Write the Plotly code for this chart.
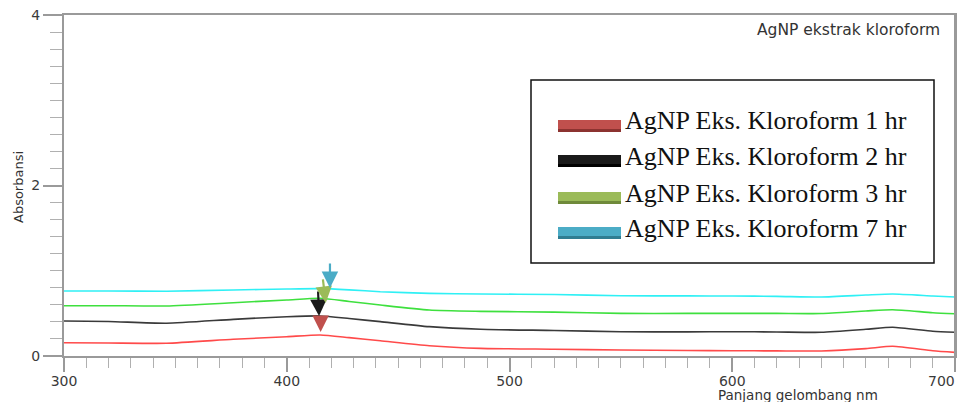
import plotly.graph_objects as go

# ---------------- data ----------------
wavelength = [300, 320, 346, 376, 400, 415, 428, 442, 464, 487, 520, 550, 580, 600, 620, 640, 660, 672, 690, 700]
abs_7hr = [0.762, 0.762, 0.760, 0.774, 0.786, 0.790, 0.776, 0.754, 0.735, 0.727, 0.722, 0.707, 0.705, 0.704, 0.700, 0.692, 0.715, 0.727, 0.704, 0.692]
abs_3hr = [0.590, 0.590, 0.587, 0.625, 0.657, 0.677, 0.640, 0.598, 0.539, 0.524, 0.515, 0.500, 0.500, 0.500, 0.500, 0.498, 0.528, 0.543, 0.508, 0.496]
abs_2hr = [0.410, 0.405, 0.384, 0.430, 0.461, 0.470, 0.440, 0.403, 0.344, 0.313, 0.300, 0.285, 0.283, 0.285, 0.282, 0.278, 0.313, 0.337, 0.290, 0.278]
abs_1hr = [0.156, 0.153, 0.149, 0.196, 0.226, 0.246, 0.215, 0.179, 0.121, 0.090, 0.080, 0.070, 0.064, 0.062, 0.060, 0.059, 0.086, 0.114, 0.062, 0.043]

series_names = ["AgNP Eks. Kloroform 1 hr", "AgNP Eks. Kloroform 2 hr",
                "AgNP Eks. Kloroform 3 hr", "AgNP Eks. Kloroform 7 hr"]
series_values = [abs_1hr, abs_2hr, abs_3hr, abs_7hr]
line_colors = ["#ff4a4a", "#3a3a3a", "#3ee03e", "#2ff0f5"]
swatch_colors = ["#c0504d", "#1a1a1a", "#9bbb59", "#4bacc6"]
swatch_shadow = ["#8c3330", "#000000", "#6f8a3a", "#2f7d92"]

# peak markers (arrow tips): wavelength, absorbance
peak_wl = [415.2, 414.5, 417.5, 419.4]
peak_abs = [0.282, 0.469, 0.622, 0.798]
arrow_tail_dx = [0, -1, -3, 0]
arrow_tail_dy = [-14, -26, -25, -26]

x_ticks = [300, 400, 500, 600, 700]
y_ticks = [0, 2, 4]

# ---------------- layout helpers ----------------
W, H = 958, 402
L, R, T, B = 64, 955, 15, 356   # plot area in window pixels


def px(x):
    return (x - L) / (R - L)


def py(y):
    return (B - y) / (B - T)


fig = go.Figure()
for name, vals, col in zip(series_names, series_values, line_colors):
    fig.add_trace(go.Scatter(x=wavelength, y=vals, mode="lines", name=name,
                             line=dict(color=col, width=1.6, shape="spline", smoothing=0.6),
                             showlegend=False, hoverinfo="skip"))

annotations = []
for wl, a, dx, dy, col in zip(peak_wl, peak_abs, arrow_tail_dx, arrow_tail_dy, swatch_colors):
    annotations.append(dict(x=wl, y=a, xref="x", yref="y", ax=dx, ay=dy,
                            axref="pixel", ayref="pixel", text="", showarrow=True,
                            arrowhead=2, arrowsize=1.5, arrowwidth=2.2, arrowcolor=col))

axis_color = "#9a9a9a"
shapes = []
# right frame edge
shapes.append(dict(type="line", xref="paper", yref="paper", x0=1, x1=1, y0=0, y1=1,
                   line=dict(color=axis_color, width=2)))
# manual legend box
shapes.append(dict(type="rect", xref="paper", yref="paper",
                   x0=px(531), x1=px(934), y0=py(263), y1=py(80),
                   line=dict(color="#111111", width=1.5), fillcolor="white", layer="above"))
row_text_y = [121, 156, 193, 228]
row_swatch_y = [125, 160, 197, 232]
for name, sc, sh, ty, sy in zip(series_names, swatch_colors, swatch_shadow, row_text_y, row_swatch_y):
    shapes.append(dict(type="rect", xref="paper", yref="paper",
                       x0=px(558), x1=px(621), y0=py(sy + 7), y1=py(sy + 3),
                       line=dict(width=0), fillcolor=sh, layer="above"))
    shapes.append(dict(type="rect", xref="paper", yref="paper",
                       x0=px(558), x1=px(621), y0=py(sy + 4), y1=py(sy - 5),
                       line=dict(width=0), fillcolor=sc, layer="above"))
    annotations.append(dict(x=px(623), y=py(ty), xref="paper", yref="paper",
                            xanchor="left", yanchor="middle", showarrow=False,
                            text=name, font=dict(family="Liberation Serif", size=26, color="#111111")))

annotations.append(dict(x=px(942), y=py(30), xref="paper", yref="paper", xanchor="right",
                        yanchor="middle", showarrow=False, text="AgNP ekstrak kloroform",
                        font=dict(family="DejaVu Sans", size=15.5, color="#333333")))
annotations.append(dict(x=px(798), y=py(395), xref="paper", yref="paper", xanchor="center",
                        yanchor="middle", showarrow=False, text="Panjang gelombang nm",
                        font=dict(family="DejaVu Sans", size=13.5, color="#333333")))
annotations.append(dict(x=px(18), y=py(187), xref="paper", yref="paper", xanchor="center",
                        yanchor="middle", showarrow=False, text="Absorbansi", textangle=-90,
                        font=dict(family="DejaVu Sans", size=13, color="#333333")))
# last x tick label, kept inside the window edge
annotations.append(dict(x=px(957), y=py(381), xref="paper", yref="paper", xanchor="right",
                        yanchor="middle", showarrow=False, text=str(x_ticks[-1]),
                        font=dict(family="DejaVu Sans", size=14, color="#3a3a3a")))

x_ticktext = [str(v) for v in x_ticks[:-1]] + [""]

fig.update_layout(
    width=W, height=H,
    margin=dict(l=L, r=W - R, t=T, b=H - B, pad=0, autoexpand=False),
    paper_bgcolor="white", plot_bgcolor="white",
    font=dict(family="DejaVu Sans", size=14, color="#3a3a3a"),
    annotations=annotations, shapes=shapes,
    xaxis=dict(range=[300, 700], tickvals=x_ticks, ticktext=x_ticktext,
               showgrid=False, zeroline=False, showline=True, linecolor=axis_color, linewidth=2,
               mirror=True, ticks="outside", ticklen=14, tickwidth=1.5, tickcolor=axis_color,
               ticklabelstandoff=-3,
               tickfont=dict(family="DejaVu Sans", size=14, color="#3a3a3a"),
               minor=dict(dtick=10, tick0=300, ticks="outside", ticklen=10, tickwidth=1.2,
                          tickcolor="#b0b0b0", showgrid=False)),
    yaxis=dict(range=[0, 4], tickvals=y_ticks, ticktext=[str(v) for v in y_ticks],
               showgrid=False, zeroline=False, showline=True, linecolor=axis_color, linewidth=2,
               mirror=True, ticks="outside", ticklen=19, tickwidth=1.5, tickcolor=axis_color,
               tickfont=dict(family="DejaVu Sans", size=14, color="#3a3a3a"),
               minor=dict(dtick=0.2, tick0=0, ticks="outside", ticklen=12, tickwidth=1.2,
                          tickcolor="#b0b0b0", showgrid=False)),
)

# remove the page's default body margin so the 958x402 figure fills the window exactly
fig.write_html("out.html",
               config={"displayModeBar": False},
               post_script="document.body.style.margin='0';document.body.style.overflow='hidden';")
